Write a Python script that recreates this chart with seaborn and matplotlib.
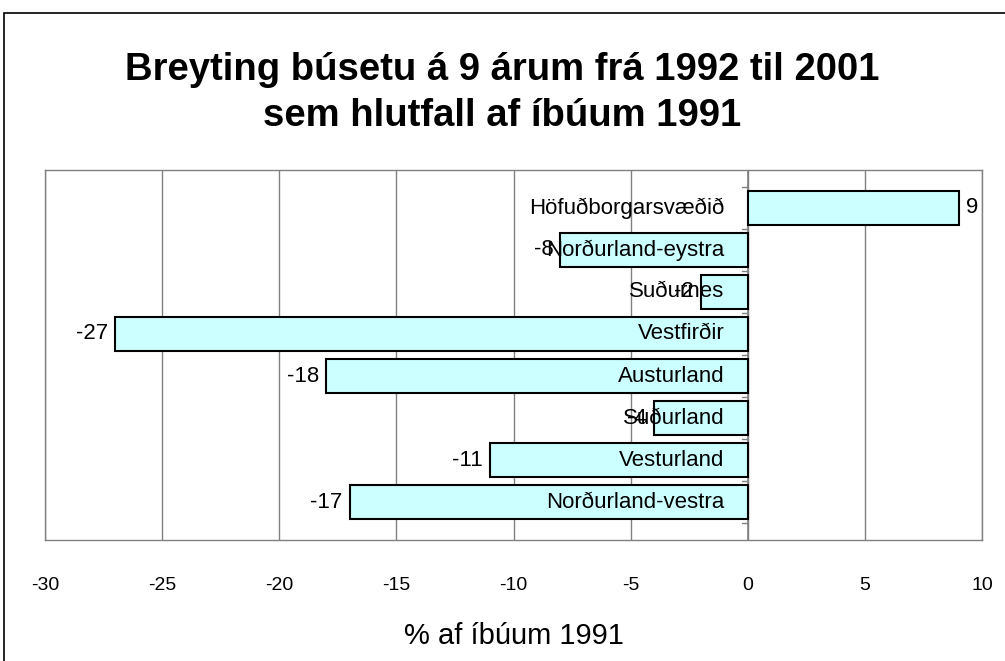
import matplotlib
matplotlib.use("Agg")
import matplotlib.pyplot as plt
import seaborn as sns
import pandas as pd
from matplotlib.patches import Rectangle

regions = ["Höfuðborgarsvæðið", "Norðurland-eystra", "Suðurnes", "Vestfirðir",
           "Austurland", "Suðurland", "Vesturland", "Norðurland-vestra"]
values = [9, -8, -2, -27, -18, -4, -11, -17]
xticks = [-30, -25, -20, -15, -10, -5, 0, 5, 10]

title = "Breyting búsetu á 9 árum frá 1992 til 2001\nsem hlutfall af íbúum 1991"
xlabel = "% af íbúum 1991"

sns.set_theme(style="white")
plt.rcParams['font.family'] = ['Liberation Sans', 'DejaVu Sans']
plt.rcParams['text.color'] = 'black'
plt.rcParams['axes.labelcolor'] = 'black'
plt.rcParams['xtick.color'] = 'black'

df = pd.DataFrame({"region": regions, "value": values})

fig = plt.figure(figsize=(10.05, 6.61), dpi=100)
ax = fig.add_axes([45/1005, 1 - 540/661, (982-45)/1005, (540-170)/661])

sns.barplot(data=df, x="value", y="region", orient="h", ax=ax,
            color="#CCFFFF", edgecolor="black", linewidth=1.5, width=0.8,
            saturation=1, zorder=3)

ax.set_xlim(-30, 10)
ax.set_xticks(xticks)
ax.set_xticklabels([str(t) for t in xticks], fontsize=14)
ax.grid(axis="x", color="#808080", linewidth=1, zorder=0)
ax.set_axisbelow(True)
ax.set_yticks([])
ax.set_ylabel("")
ax.set_xlabel(xlabel, fontsize=21, labelpad=20)
for s in ax.spines.values():
    s.set_color("#808080")
    s.set_linewidth(1)
ax.tick_params(axis="x", direction="out", length=5, color="#808080", pad=22,
               labelcolor="black")

# zero axis line with minor ticks between categories
ax.axvline(0, color="#808080", linewidth=1.2, zorder=2)
for i in range(len(regions) + 1):
    ax.plot([-0.25, 0], [i - 0.5, i - 0.5], color="#808080", linewidth=1, zorder=2)

for i, (r, v) in enumerate(zip(regions, values)):
    ax.text(-1.0, i, r, ha="right", va="center", fontsize=16, color="black", zorder=5)
    if v >= 0:
        ax.text(v + 0.3, i, str(v), ha="left", va="center", fontsize=16,
                color="black", zorder=5)
    else:
        ax.text(v - 0.3, i, str(v), ha="right", va="center", fontsize=16,
                color="black", zorder=5)

fig.text(0.5, 1 - 93/661, title, ha="center", va="center", fontsize=27.5,
         fontweight="bold", linespacing=1.35, color="black")

fig.patches.append(Rectangle((4/1005, -0.1), 1.2, 1 - 13/661 + 0.1,
                             transform=fig.transFigure, fill=False,
                             edgecolor="black", linewidth=1.2))

fig.savefig("out.png", dpi=100)
